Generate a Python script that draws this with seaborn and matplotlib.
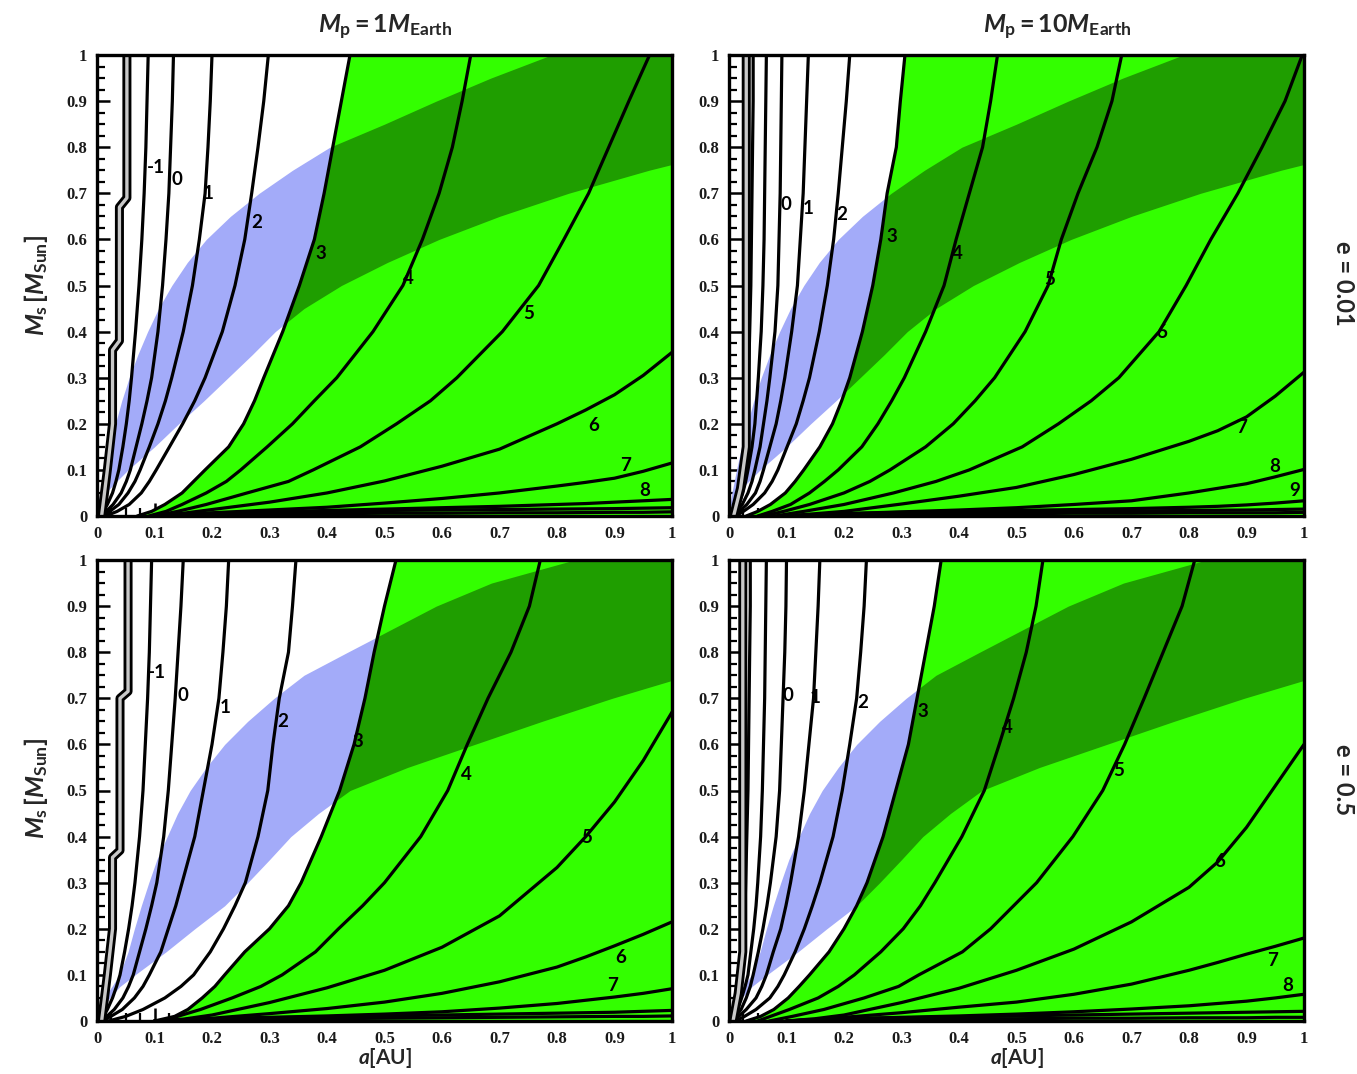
import numpy as np
import matplotlib
matplotlib.use("Agg")
import matplotlib.pyplot as plt
from matplotlib.ticker import MultipleLocator
import seaborn as sns

sns.set_theme(style="white")
plt.rcParams['font.family'] = ['Lato', 'DejaVu Sans']
plt.rcParams['mathtext.fontset'] = 'custom'
plt.rcParams['mathtext.rm'] = 'Lato:bold'
plt.rcParams['mathtext.it'] = 'Lato:italic:bold'
plt.rcParams['mathtext.bf'] = 'Lato:bold'

BLUE = '#a3abf9'
GREEN = '#33ff00'
DARK = '#1f9e00'

# ---------------- data ----------------
# steep contours: a[AU] at these stellar masses M_s
M_GRID = [0.0, 0.01, 0.025, 0.05, 0.075, 0.1, 0.15, 0.2, 0.25, 0.3, 0.4, 0.5, 0.6, 0.7, 0.8, 0.9, 1.0]
# flat contours: M_s at these a[AU]
A_GRID = [0.1, 0.15, 0.2, 0.3, 0.4, 0.5, 0.6, 0.7, 0.8, 0.85, 0.9, 0.95, 1.0]
# habitable-zone band edges (inner / outer a[AU]) at these masses
M_BAND = [0.0, 0.025, 0.05, 0.075, 0.1, 0.15, 0.2, 0.25, 0.3, 0.35, 0.4, 0.45, 0.5,
          0.55, 0.6, 0.65, 0.7, 0.75, 0.8, 0.85, 0.9, 0.95, 1.0]
A_IN_E001 = [0.0, 0.002, 0.005, 0.009, 0.013, 0.022, 0.032, 0.043, 0.056, 0.071, 0.088, 0.107, 0.13,
             0.157, 0.19, 0.232, 0.282, 0.34, 0.405, 0.5, 0.59, 0.685, 0.79]
A_OUT_E001 = [0.0, 0.004, 0.015, 0.034, 0.054, 0.1, 0.142, 0.186, 0.228, 0.27, 0.31, 0.36, 0.425,
              0.505, 0.595, 0.7, 0.82, 0.96, 1.12, 1.28, 1.45, 1.62, 1.8]
A_IN_E05 = [0.0, 0.004, 0.012, 0.026, 0.039, 0.054, 0.065, 0.077, 0.09, 0.104, 0.122, 0.14, 0.162,
            0.19, 0.222, 0.262, 0.308, 0.36, 0.436, 0.513, 0.59, 0.686, 0.83]
A_OUT_E05 = [0.0, 0.008, 0.022, 0.04, 0.066, 0.12, 0.17, 0.222, 0.262, 0.3, 0.337, 0.385, 0.44,
             0.54, 0.657, 0.774, 0.896, 1.03, 1.2, 1.35, 1.5, 1.68, 1.85]

# top-left: e = 0.01, Mp = 1 M_Earth
TL_STEEP = {
    -1: [0.006, 0.011, 0.018, 0.027, 0.033, 0.038, 0.045, 0.051, 0.056, 0.060, 0.067, 0.073, 0.078, 0.082, 0.085, 0.087, 0.089],
    0: [0.008, 0.016, 0.028, 0.042, 0.051, 0.058, 0.068, 0.078, 0.087, 0.095, 0.106, 0.114, 0.120, 0.125, 0.128, 0.131, 0.133],
    1: [0.010, 0.022, 0.038, 0.054, 0.066, 0.075, 0.091, 0.106, 0.119, 0.130, 0.150, 0.166, 0.178, 0.188, 0.193, 0.197, 0.200],
    2: [0.015, 0.035, 0.056, 0.077, 0.091, 0.103, 0.126, 0.149, 0.170, 0.188, 0.218, 0.240, 0.257, 0.269, 0.280, 0.290, 0.298],
    3: [0.070, 0.095, 0.118, 0.148, 0.168, 0.188, 0.229, 0.255, 0.274, 0.290, 0.323, 0.352, 0.378, 0.395, 0.410, 0.425, 0.440],
    4: [0.090, 0.120, 0.148, 0.190, 0.225, 0.250, 0.296, 0.340, 0.378, 0.417, 0.480, 0.532, 0.566, 0.595, 0.618, 0.635, 0.650],
    5: [0.100, 0.140, 0.190, 0.261, 0.333, 0.376, 0.458, 0.521, 0.580, 0.626, 0.705, 0.768, 0.812, 0.855, 0.890, 0.925, 0.961],
}
TL_FLAT = {
    6: [0.0, 0.006, 0.014, 0.030, 0.050, 0.076, 0.108, 0.145, 0.200, 0.230, 0.263, 0.305, 0.355],
    7: [0.0, 0.003, 0.007, 0.013, 0.019, 0.028, 0.038, 0.050, 0.065, 0.073, 0.082, 0.097, 0.115],
    8: [0.0, 0.004, 0.006, 0.009, 0.012, 0.015, 0.018, 0.021, 0.025, 0.027, 0.030, 0.033, 0.036],
    9: [0.0, 0.003, 0.005, 0.008, 0.010, 0.012, 0.013, 0.014, 0.015, 0.0155, 0.016, 0.017, 0.018],
    10: [0.0, 0.002, 0.003, 0.004, 0.005, 0.006, 0.006, 0.007, 0.007, 0.0075, 0.008, 0.008, 0.009],
}
TL_STAIR_A = [0.052, 0.052, 0.039, 0.039, 0.027, 0.027, 0.018, 0.008]
TL_STAIR_M = [1.0, 0.69, 0.67, 0.38, 0.36, 0.20, 0.10, 0.0]
TL_LABELS = [("-1", 0.103, 0.757), ("0", 0.139, 0.729), ("1", 0.193, 0.700), ("2", 0.278, 0.636),
             ("3", 0.390, 0.570), ("4", 0.542, 0.516), ("5", 0.750, 0.440), ("6", 0.863, 0.197),
             ("7", 0.920, 0.110), ("8", 0.953, 0.056)]

# top-right: e = 0.01, Mp = 10 M_Earth
TR_STEEP = {
    -2: [0.004, 0.008, 0.013, 0.018, 0.021, 0.024, 0.028, 0.031, 0.033, 0.034, 0.036, 0.038, 0.039, 0.040, 0.041, 0.042, 0.042],
    -1: [0.005, 0.010, 0.017, 0.024, 0.029, 0.033, 0.040, 0.045, 0.048, 0.051, 0.056, 0.059, 0.061, 0.062, 0.063, 0.064, 0.065],
    0: [0.007, 0.014, 0.023, 0.033, 0.040, 0.045, 0.054, 0.060, 0.066, 0.071, 0.080, 0.085, 0.087, 0.089, 0.090, 0.091, 0.092],
    1: [0.009, 0.018, 0.031, 0.046, 0.054, 0.060, 0.071, 0.082, 0.090, 0.097, 0.109, 0.119, 0.124, 0.129, 0.132, 0.135, 0.138],
    2: [0.012, 0.025, 0.042, 0.062, 0.075, 0.085, 0.101, 0.117, 0.129, 0.140, 0.157, 0.171, 0.182, 0.190, 0.197, 0.204, 0.210],
    3: [0.030, 0.050, 0.072, 0.098, 0.115, 0.130, 0.158, 0.180, 0.196, 0.210, 0.232, 0.250, 0.264, 0.275, 0.291, 0.298, 0.306],
    4: [0.050, 0.075, 0.107, 0.140, 0.166, 0.190, 0.231, 0.259, 0.283, 0.305, 0.342, 0.374, 0.395, 0.418, 0.441, 0.455, 0.467],
    5: [0.060, 0.095, 0.140, 0.200, 0.245, 0.280, 0.342, 0.390, 0.428, 0.462, 0.515, 0.555, 0.578, 0.607, 0.640, 0.666, 0.683],
    6: [0.080, 0.130, 0.200, 0.286, 0.360, 0.418, 0.510, 0.573, 0.630, 0.678, 0.748, 0.795, 0.838, 0.885, 0.927, 0.967, 0.997],
}
TR_FLAT = {
    7: [0.0, 0.005, 0.010, 0.026, 0.043, 0.062, 0.090, 0.123, 0.162, 0.185, 0.215, 0.260, 0.312],
    8: [0.0, 0.003, 0.005, 0.009, 0.013, 0.018, 0.025, 0.033, 0.050, 0.060, 0.070, 0.085, 0.101],
    9: [0.0, 0.003, 0.005, 0.008, 0.010, 0.012, 0.014, 0.016, 0.019, 0.021, 0.024, 0.028, 0.033],
    10: [0.0, 0.002, 0.004, 0.006, 0.008, 0.009, 0.010, 0.011, 0.012, 0.0125, 0.013, 0.014, 0.015],
    11: [0.0, 0.002, 0.003, 0.004, 0.005, 0.005, 0.006, 0.006, 0.007, 0.007, 0.007, 0.007, 0.008],
}
TR_STAIR_A = [0.030, 0.030, 0.020, 0.008]
TR_STAIR_M = [1.0, 0.15, 0.06, 0.0]
TR_LABELS = [("0", 0.099, 0.675), ("1", 0.137, 0.668), ("2", 0.196, 0.653), ("3", 0.283, 0.606),
             ("4", 0.397, 0.570), ("5", 0.558, 0.512), ("6", 0.753, 0.399), ("7", 0.892, 0.193),
             ("8", 0.949, 0.108), ("9", 0.984, 0.056)]

# bottom-left: e = 0.5, Mp = 1 M_Earth
BL_STEEP = {
    -1: [0.006, 0.011, 0.018, 0.027, 0.034, 0.040, 0.048, 0.055, 0.061, 0.066, 0.074, 0.080, 0.084, 0.088, 0.091, 0.093, 0.095],
    0: [0.008, 0.017, 0.030, 0.045, 0.055, 0.063, 0.074, 0.085, 0.095, 0.104, 0.116, 0.124, 0.130, 0.136, 0.141, 0.146, 0.150],
    1: [0.010, 0.024, 0.044, 0.065, 0.080, 0.091, 0.111, 0.124, 0.137, 0.148, 0.170, 0.185, 0.200, 0.212, 0.219, 0.225, 0.229],
    2: [0.020, 0.050, 0.080, 0.118, 0.146, 0.168, 0.197, 0.220, 0.240, 0.258, 0.280, 0.297, 0.306, 0.317, 0.333, 0.340, 0.346],
    3: [0.100, 0.135, 0.158, 0.183, 0.205, 0.222, 0.257, 0.300, 0.333, 0.355, 0.390, 0.422, 0.447, 0.466, 0.482, 0.500, 0.520],
    4: [0.110, 0.140, 0.180, 0.235, 0.285, 0.322, 0.380, 0.420, 0.462, 0.500, 0.563, 0.610, 0.644, 0.680, 0.720, 0.752, 0.771],
}
BL_FLAT = {
    5: [0.0, 0.004, 0.013, 0.040, 0.072, 0.110, 0.160, 0.228, 0.333, 0.400, 0.475, 0.565, 0.670],
    6: [0.0, 0.002, 0.006, 0.016, 0.027, 0.041, 0.060, 0.085, 0.117, 0.139, 0.163, 0.188, 0.215],
    7: [0.0, 0.003, 0.005, 0.008, 0.011, 0.015, 0.020, 0.028, 0.038, 0.045, 0.052, 0.060, 0.070],
    8: [0.0, 0.003, 0.005, 0.007, 0.009, 0.011, 0.013, 0.015, 0.017, 0.018, 0.019, 0.021, 0.023],
    9: [0.0, 0.002, 0.003, 0.004, 0.005, 0.006, 0.007, 0.008, 0.009, 0.0095, 0.010, 0.010, 0.011],
}
BL_STAIR_A = [0.054, 0.054, 0.040, 0.040, 0.027, 0.027, 0.018, 0.008]
BL_STAIR_M = [1.0, 0.715, 0.70, 0.37, 0.355, 0.20, 0.10, 0.0]
BL_LABELS = [("-1", 0.104, 0.757), ("0", 0.150, 0.707), ("1", 0.223, 0.679), ("2", 0.323, 0.649),
             ("3", 0.454, 0.607), ("4", 0.643, 0.534), ("5", 0.852, 0.397), ("6", 0.910, 0.137),
             ("7", 0.896, 0.078)]

# bottom-right: e = 0.5, Mp = 10 M_Earth
BR_STEEP = {
    -2: [0.003, 0.006, 0.011, 0.015, 0.018, 0.020, 0.023, 0.026, 0.028, 0.029, 0.031, 0.033, 0.034, 0.035, 0.036, 0.037, 0.037],
    -1: [0.004, 0.008, 0.015, 0.022, 0.028, 0.033, 0.038, 0.043, 0.047, 0.050, 0.055, 0.058, 0.060, 0.062, 0.063, 0.064, 0.065],
    0: [0.006, 0.012, 0.021, 0.030, 0.037, 0.042, 0.051, 0.059, 0.066, 0.072, 0.082, 0.088, 0.091, 0.094, 0.097, 0.099, 0.100],
    1: [0.008, 0.017, 0.030, 0.047, 0.057, 0.065, 0.077, 0.090, 0.099, 0.107, 0.121, 0.131, 0.139, 0.147, 0.151, 0.155, 0.158],
    2: [0.012, 0.027, 0.047, 0.071, 0.085, 0.096, 0.115, 0.131, 0.145, 0.158, 0.181, 0.197, 0.210, 0.222, 0.229, 0.235, 0.239],
    3: [0.030, 0.055, 0.078, 0.103, 0.122, 0.140, 0.174, 0.200, 0.222, 0.240, 0.268, 0.290, 0.312, 0.327, 0.342, 0.357, 0.369],
    4: [0.050, 0.072, 0.105, 0.155, 0.190, 0.218, 0.264, 0.303, 0.333, 0.358, 0.405, 0.444, 0.470, 0.495, 0.517, 0.534, 0.546],
    5: [0.070, 0.110, 0.165, 0.235, 0.295, 0.330, 0.406, 0.455, 0.495, 0.535, 0.598, 0.650, 0.688, 0.722, 0.755, 0.788, 0.810],
}
BR_FLAT = {
    6: [0.0, 0.005, 0.013, 0.040, 0.071, 0.110, 0.156, 0.215, 0.290, 0.345, 0.420, 0.510, 0.600],
    7: [0.0, 0.003, 0.008, 0.018, 0.030, 0.041, 0.058, 0.080, 0.110, 0.127, 0.145, 0.162, 0.180],
    8: [0.0, 0.003, 0.005, 0.008, 0.011, 0.015, 0.020, 0.026, 0.033, 0.038, 0.043, 0.050, 0.058],
    9: [0.0, 0.003, 0.005, 0.007, 0.009, 0.011, 0.013, 0.015, 0.017, 0.018, 0.019, 0.020, 0.021],
    10: [0.0, 0.002, 0.003, 0.004, 0.005, 0.005, 0.006, 0.006, 0.007, 0.007, 0.007, 0.008, 0.008],
}
BR_STAIR_A = [0.024, 0.024, 0.016, 0.007]
BR_STAIR_M = [1.0, 0.15, 0.06, 0.0]
BR_LABELS = [("0", 0.103, 0.707), ("1", 0.150, 0.701), ("2", 0.233, 0.690), ("3", 0.337, 0.672),
             ("4", 0.485, 0.636), ("5", 0.677, 0.544), ("6", 0.854, 0.345), ("7", 0.946, 0.132),
             ("8", 0.972, 0.078)]

TICKS = [0.0, 0.1, 0.2, 0.3, 0.4, 0.5, 0.6, 0.7, 0.8, 0.9, 1.0]
TICK_LABELS = ["0", "0.1", "0.2", "0.3", "0.4", "0.5", "0.6", "0.7", "0.8", "0.9", "1"]

# ---------------- figure ----------------
W, H = 1357, 1074
fig = plt.figure(figsize=(W / 100, H / 100), dpi=100)


def px_axes(x0, x1, ytop, ybot):
    return fig.add_axes([x0 / W, 1 - ybot / H, (x1 - x0) / W, (ybot - ytop) / H])


def line(ax, a, m, lw=2.3, color='black', z=5):
    sns.lineplot(x=a, y=m, ax=ax, sort=False, estimator=None, color=color,
                 lw=lw, legend=False, zorder=z)


def draw_panel(ax, steep, flat, stair_a, stair_m, a_in, a_out, labels):
    ax.set_facecolor('white')
    ax.fill_betweenx(M_BAND, a_in, a_out, color=BLUE, lw=0, zorder=1)
    green = ax.fill_betweenx(M_GRID, steep[3], 1.0, color=GREEN, lw=0, zorder=2)
    dark = ax.fill_betweenx(M_BAND, a_in, a_out, color=DARK, lw=0, zorder=3)
    dark.set_clip_path(green.get_paths()[0], ax.transData)

    for lev, a in steep.items():
        line(ax, a, M_GRID)
    for lev, m in flat.items():
        line(ax, A_GRID, m)
    # the thick double contour near the left edge
    line(ax, stair_a, stair_m, lw=6.5, z=6)
    line(ax, stair_a, stair_m, lw=2.4, color='#c8c8c8', z=7)

    for txt, a, m in labels:
        ax.text(a, m, txt, ha='center', va='center', fontsize=13.5,
                fontweight='bold', color='black', zorder=8)

    ax.set_xlim(0, 1)
    ax.set_ylim(0, 1)
    ax.set_xlabel('')
    ax.set_ylabel('')
    ax.set_xticks(TICKS)
    ax.set_xticklabels(TICK_LABELS)
    ax.set_yticks(TICKS)
    ax.set_yticklabels(TICK_LABELS)
    ax.xaxis.set_minor_locator(MultipleLocator(0.025))
    ax.yaxis.set_minor_locator(MultipleLocator(0.025))
    ax.tick_params(which='major', direction='in', length=9.5, width=1.8, color='black',
                   left=True, bottom=True, top=False, right=False, pad=7)
    ax.tick_params(which='minor', direction='in', length=6, width=1.6, color='black',
                   left=True, bottom=True, top=False, right=False)
    for lab in ax.get_xticklabels() + ax.get_yticklabels():
        lab.set_fontfamily('Liberation Serif')
        lab.set_fontweight('bold')
        lab.set_fontsize(12)
        lab.set_color('#1a1a1a')
    for sp in ax.spines.values():
        sp.set_linewidth(2.4)
        sp.set_color('black')
        sp.set_zorder(10)


ax_tl = px_axes(97, 672, 55, 516)
ax_tr = px_axes(729, 1304, 55, 516)
ax_bl = px_axes(97, 672, 560, 1021)
ax_br = px_axes(729, 1304, 560, 1021)

draw_panel(ax_tl, TL_STEEP, TL_FLAT, TL_STAIR_A, TL_STAIR_M, A_IN_E001, A_OUT_E001, TL_LABELS)
draw_panel(ax_tr, TR_STEEP, TR_FLAT, TR_STAIR_A, TR_STAIR_M, A_IN_E001, A_OUT_E001, TR_LABELS)
draw_panel(ax_bl, BL_STEEP, BL_FLAT, BL_STAIR_A, BL_STAIR_M, A_IN_E05, A_OUT_E05, BL_LABELS)
draw_panel(ax_br, BR_STEEP, BR_FLAT, BR_STAIR_A, BR_STAIR_M, A_IN_E05, A_OUT_E05, BR_LABELS)

# titles and axis labels
fig.text(385 / W, 1 - 27 / H, r"$M_{\rm p}{\rm = 1}M_{\rm Earth}$", ha='center', va='center', fontsize=18)
fig.text(1057 / W, 1 - 27 / H, r"$M_{\rm p}{\rm = 10}M_{\rm Earth}$", ha='center', va='center', fontsize=18)
for yc in (285, 788):
    fig.text(36 / W, 1 - yc / H, r"$M_{\rm s}{\rm \,[}M_{\rm Sun}{\rm ]}$", ha='center', va='center',
             rotation=90, fontsize=18)
for xc in (385, 1017):
    fig.text(xc / W, 1 - 1058 / H, r"$a{\rm [AU]}$", ha='center', va='center', fontsize=15)
fig.text(1343 / W, 1 - 283 / H, "e = 0.01", ha='center', va='center', rotation=270,
         fontsize=17, fontweight='bold')
fig.text(1343 / W, 1 - 780 / H, "e = 0.5", ha='center', va='center', rotation=270,
         fontsize=17, fontweight='bold')

fig.savefig("out.png", dpi=100, facecolor='white')
